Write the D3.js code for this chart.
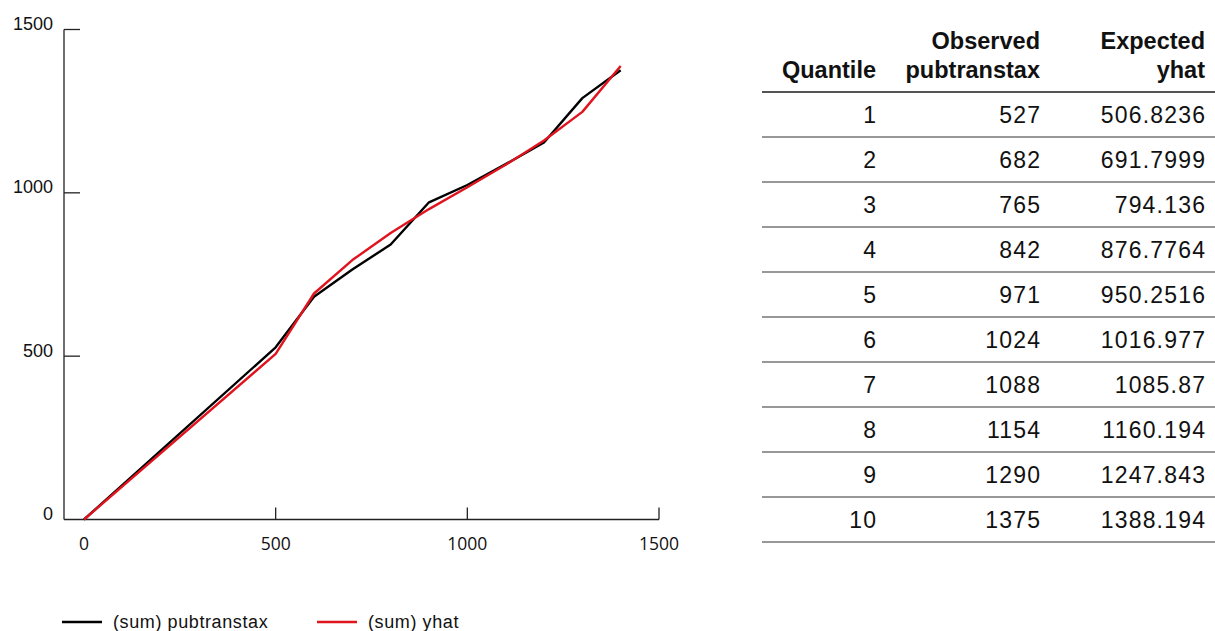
<!DOCTYPE html>
<html><head><meta charset="utf-8">
<script src="https://cdn.jsdelivr.net/npm/d3@7"></script>
<style>body{margin:0;background:#fff}svg{display:block}</style>
</head><body>
<svg id="c" width="1215" height="631"></svg>
<script>
const xVals = [0, 500, 600, 700, 800, 900, 1000, 1100, 1200, 1300, 1400];
const observed = [0, 527, 682, 765, 842, 971, 1024, 1088, 1154, 1290, 1375];
const expected = [0, 506.8236, 691.7999, 794.136, 876.7764, 950.2516, 1016.977, 1085.87, 1160.194, 1247.843, 1388.194];
const xTicks = [0, 500, 1000, 1500];
const yTicks = [0, 500, 1000, 1500];
const quantiles = [1,2,3,4,5,6,7,8,9,10];
const obsLabels = ["527","682","765","842","971","1024","1088","1154","1290","1375"];
const expLabels = ["506.8236","691.7999","794.136","876.7764","950.2516","1016.977","1085.87","1160.194","1247.843","1388.194"];
const legendLabels = ["(sum) pubtranstax", "(sum) yhat"];
const colors = ["#000000", "#e0141e"];

const svg = d3.select("#c");
const x = d3.scaleLinear().domain([0,1500]).range([84,659]);
const y = d3.scaleLinear().domain([0,1500]).range([519.5,29.5]);
const axisX0 = 64;

// Y axis
const ya = svg.append("g");
ya.append("line").attr("x1",axisX0).attr("x2",axisX0).attr("y1",y(1500)).attr("y2",y(0)).attr("stroke","#222").attr("stroke-width",1.3);
ya.selectAll("line.t").data(yTicks.filter(d=>d>0)).join("line").attr("class","t")
  .attr("x1",axisX0).attr("x2",axisX0+16).attr("y1",d=>y(d)).attr("y2",d=>y(d)).attr("stroke","#222").attr("stroke-width",1.3);
ya.selectAll("text").data(yTicks).join("text")
  .attr("x",53).attr("y",d=>y(d)+0.5).attr("text-anchor","end")
  .attr("font-family","Liberation Sans, Arial, sans-serif").attr("font-size",18).attr("fill","#111")
  .text(d=>d);

// X axis
const xa = svg.append("g");
xa.append("line").attr("x1",axisX0).attr("x2",x(1500)).attr("y1",y(0)).attr("y2",y(0)).attr("stroke","#222").attr("stroke-width",1.3);
xa.selectAll("line.t").data(xTicks.filter(d=>d>0)).join("line").attr("class","t")
  .attr("x1",d=>x(d)).attr("x2",d=>x(d)).attr("y1",y(0)-12).attr("y2",y(0)).attr("stroke","#222").attr("stroke-width",1.3);
xa.selectAll("text").data(xTicks).join("text")
  .attr("x",d=>x(d)).attr("y",550).attr("text-anchor","middle")
  .attr("font-family","Open Sans, sans-serif").attr("font-size",17.5).attr("fill","#111")
  .text(d=>d);

// Lines
const line = d3.line().x(d=>x(d[0])).y(d=>y(d[1]));
[observed, expected].forEach((s,i)=>{
  svg.append("path").datum(xVals.map((v,j)=>[v,s[j]]))
    .attr("d",line).attr("fill","none").attr("stroke",colors[i]).attr("stroke-width",2.4).attr("stroke-linejoin","round");
});

// Legend
const legX = [62, 317];
legendLabels.forEach((t,i)=>{
  svg.append("line").attr("x1",legX[i]).attr("x2",legX[i]+40).attr("y1",622).attr("y2",622).attr("stroke",colors[i]).attr("stroke-width",2.4);
  svg.append("text").attr("x",legX[i]+51).attr("y",627.5)
    .attr("font-family","Liberation Sans, Arial, sans-serif").attr("font-size",18).attr("letter-spacing","0.6px").attr("fill","#111").text(t);
});

// Table
const colRight = [876, 1040, 1205];
const tableL = 762, tableR = 1215;
const hdr = [["","Quantile"],["Observed","pubtranstax"],["Expected","yhat"]];
hdr.forEach((h,i)=>{
  [0,1].forEach(k=>{
    if(!h[k]) return;
    svg.append("text").attr("x",colRight[i]).attr("y",k===0?49:78).attr("text-anchor","end")
      .attr("font-family","Liberation Sans, Arial, sans-serif").attr("font-weight","bold").attr("font-size",23.5)
      .attr("fill","#111").text(h[k]);
  });
});
svg.append("line").attr("x1",tableL).attr("x2",tableR).attr("y1",92).attr("y2",92).attr("stroke","#555").attr("stroke-width",2);
const rowY = d3.scaleBand().domain(quantiles).range([92,542]);
const ls = 1.2;
quantiles.forEach((q,i)=>{
  const cy = rowY(q) + rowY.bandwidth()/2;
  [String(q), obsLabels[i], expLabels[i]].forEach((t,c)=>{
    svg.append("text").attr("x",colRight[c]+ls).attr("y",cy+8).attr("text-anchor","end")
      .attr("font-family","Liberation Sans, Arial, sans-serif").attr("font-size",23).attr("letter-spacing",ls+"px")
      .attr("fill","#111").text(t);
  });
  svg.append("line").attr("x1",tableL).attr("x2",tableR).attr("y1",rowY(q)+rowY.bandwidth()).attr("y2",rowY(q)+rowY.bandwidth())
    .attr("stroke","#333").attr("stroke-width",1.2);
});
</script>
</body></html>
